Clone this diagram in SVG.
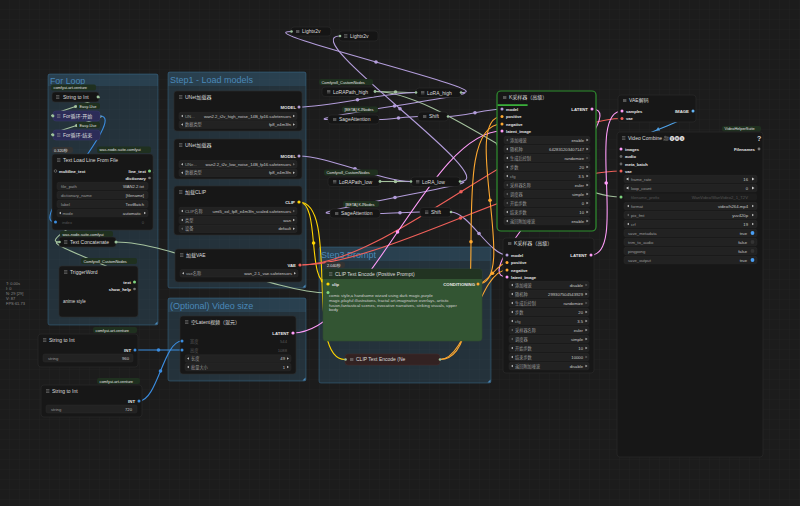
<svg xmlns="http://www.w3.org/2000/svg" width="800" height="506" viewBox="0 0 800 506">
<defs>
<pattern id="grid" width="10" height="10" patternUnits="userSpaceOnUse"><rect width="10" height="10" fill="#1c1c1c"/><path d="M10 0V10H0" fill="none" stroke="#242424" stroke-width="0.6"/></pattern>
<path id="la" d="M0 0L2-1.3V1.3Z"/>
<path id="ra" d="M0 0L-2-1.3V1.3Z"/>
<g id="mi"><rect x="0" y="-1.5" width="3.4" height="0.55"/><rect x="0" y="-0.27" width="3.4" height="0.55"/><rect x="0" y="0.95" width="3.4" height="0.55"/></g>
<path id="arrowhead" d="M0 0L-3.5-2V2Z"/>
</defs>
<style>
text{font-family:"Liberation Sans","Noto Sans CJK SC",sans-serif}
.gb{fill:#3f789e;fill-opacity:.24;stroke:#3f789e;stroke-opacity:.55;stroke-width:.8}
.gh{fill:#3f789e;fill-opacity:.2}
.gt{font-size:9px;fill:#4a88b8}
.n{fill:#171717;stroke:#2b2b2b;stroke-width:.6}
.c{fill:#151515;stroke:#2b2b2b;stroke-width:.6}
.t{font-size:5px;fill:#dcdcdc}
.s{font-size:4.1px;fill:#e6e6e6;font-weight:bold}
.se{font-size:4.3px;fill:#e6e6e6;font-weight:bold;text-anchor:end}
.w{fill:#222;stroke:#2f2f2f;stroke-width:.4}
.wl{font-size:4.2px;fill:#9a9a9a}
.wv{font-size:4.2px;fill:#c8c8c8;text-anchor:end}
.g1{fill:#555}
.bd{fill:#1f301f}
.bt{font-size:3.9px;fill:#e0e0e0}
.ar{fill:#bbb}
.mi{fill:#8a8a8a}
.wr{fill:none;stroke-width:1.1}
.st{font-size:4px;fill:#8a8a8a}
</style>
<rect width="800" height="506" fill="url(#grid)"/>

<g id="groups">
<g id="group-for-loop"><rect class="gb" x="48" y="74" width="110" height="251" rx="2"/><rect class="gh" x="48" y="74" width="110" height="12"/><text class="gt" x="50" y="84" style="font-size:8.8px">For Loop</text><path d="M157.5,324.5h-3l3-3z" fill="#4a88b8"/></g>
<g id="group-step1"><rect class="gb" x="168" y="72" width="138" height="216" rx="2"/><rect class="gh" x="168" y="72" width="138" height="14"/><text class="gt" x="170" y="82.5">Step1 - Load models</text><path d="M305.5,287.5h-3l3-3z" fill="#4a88b8"/></g>
<g id="group-video-size"><rect class="gb" x="168" y="298" width="138" height="83" rx="2"/><rect class="gh" x="168" y="298" width="138" height="14"/><text class="gt" x="170" y="308.5">(Optional) Video size</text><path d="M305.5,380.5h-3l3-3z" fill="#4a88b8"/></g>
<g id="group-step3"><rect class="gb" x="319" y="247" width="172" height="136" rx="2"/><rect class="gh" x="319" y="247" width="172" height="14"/><text class="gt" x="321" y="257.5">Step3 Prompt</text><path d="M490.5,382.5h-3l3-3z" fill="#4a88b8"/></g>
</g>

<text class="st" x="6" y="285">T: 0.00s</text>
<text class="st" x="6" y="290">I: 0</text>
<text class="st" x="6" y="295">N: 29 [29]</text>
<text class="st" x="6" y="300">V: 87</text>
<text class="st" x="6" y="305">FPS:61.73</text>

<g id="connectors">
<g stroke="#a5c29e" class="wr">
<path d="M98,97 C110.2,97 40.8,116 53,116"/>
<path d="M100,116 C112.7,116 40.3,135 53,135"/>
<path d="M149,171 C177.7,171 30.3,242 59,242"/>
<path d="M134,282 C155.3,282 37.7,242 59,242"/>
<path d="M116,242 C170.5,242 273.5,293 328,293"/>
<path d="M375,91.5 C385,91.5 406,92.5 416,92.5"/>
<path d="M380,181.5 L411,181.5"/>
<path d="M375,91.5 C441.9,91.5 554.1,197 621,197"/>
</g>
<g fill="#a5c29e"><circle cx="75.5" cy="106.5" r="1.5"/><circle cx="76.5" cy="125.5" r="1.5"/><circle cx="395.5" cy="92" r="1.8"/><circle cx="395.5" cy="181.5" r="1.8"/><circle cx="498" cy="144.2" r="1.8"/></g>
<g stroke="#3b8de0" class="wr">
<path d="M100,116 C128.8,116 26.2,222 55,222"/>
<path d="M135,350 C146.75,350 170.25,350 182,350"/>
<path d="M139,401 C157.5,401 163.5,341 182,341"/>
</g>
<g fill="#3b8de0"><circle cx="158.5" cy="350" r="1.8"/><circle cx="160.5" cy="371" r="1.8"/></g>
<g stroke="#b39ddb" class="wr">
<path d="M299,107 C328.5,107 386.5,92.5 416,92.5"/>
<path d="M299,156 C327.7,156 382.3,181.5 411,181.5"/>
<path d="M461,92.5 C506,92.5 246,31.5 291,31.5"/>
<path d="M460,181.5 C507,181.5 293,36 340,36"/>
<path d="M461,92.5 C495,92.5 294,119.5 328,119.5"/>
<path d="M460,181.5 C493.5,181.5 296.5,213.5 330,213.5"/>
<path d="M379,119.5 C389,119.5 408,116.5 418,116.5"/>
<path d="M380,213.5 C390,213.5 410,212 420,212"/>
<path d="M448,116.5 C461.6,116.5 488.4,109 502,109"/>
<path d="M451,212 C468.7,212 489.3,255 507,255"/>
</g>
<g fill="#b39ddb"><circle cx="357.5" cy="99.8" r="1.8"/><circle cx="355" cy="168.8" r="1.8"/><circle cx="376" cy="62" r="1.8"/><circle cx="400" cy="108.8" r="1.8"/><circle cx="394.5" cy="106" r="1.8"/><circle cx="395" cy="197.5" r="1.8"/><circle cx="398.5" cy="118" r="1.8"/><circle cx="400" cy="212.8" r="1.8"/><circle cx="475" cy="112.8" r="1.8"/><circle cx="479" cy="233.5" r="1.8"/></g>
<g stroke="#ffd500" class="wr">
<path d="M299,202 C320.7,202 306.3,284 328,284"/>
<path d="M299,202 C340,202 304,359.5 345,359.5"/>
</g>
<g fill="#ffd500"><circle cx="313.6" cy="243" r="1.8"/><circle cx="322.5" cy="280.8" r="1.8"/></g>
<g stroke="#f0605a" class="wr">
<path d="M300,265 C388.4,265 533.6,118.5 622,118.5"/>
<path d="M300,265 C383.6,265 537.4,171 621,171"/>
</g>
<g fill="#f0605a"><circle cx="461" cy="191.8" r="1.8"/><circle cx="460.5" cy="218" r="1.8"/></g>
<g stroke="#ff9cf9" class="wr">
<path d="M293,333 C365.7,333 429.3,131 502,131"/>
<path d="M592,109 C639,109 460,277 507,277"/>
<path d="M591,255 C627.8,255 585.2,111 622,111"/>
</g>
<g fill="#ff9cf9"><circle cx="397.5" cy="232" r="1.8"/><circle cx="606.2" cy="183" r="1.8"/></g>
<g stroke="#ffa931" class="wr">
<path d="M478,284 C520.3,284 459.7,116.5 502,116.5"/>
<path d="M440,359.5 C500.9,359.5 441.1,124 502,124"/>
<path d="M478,284 C487,284 498,262.5 507,262.5"/>
<path d="M440,359.5 C468,359.5 479,270 507,270"/>
</g>
<g fill="#ffa931"><circle cx="490" cy="200.3" r="1.8"/><circle cx="471" cy="241.8" r="1.8"/><circle cx="492.5" cy="273.3" r="1.8"/></g>
<path class="wr" stroke="#4fa3ea" d="M693,111 C713.4,111 600.6,149 621,149"/>
<use href="#arrowhead" fill="#4fa3ea" transform="translate(656,130.5) rotate(152)"/>
</g>

<g id="node-string-to-int-loop">
<rect class="bd" x="51" y="84.5" width="45" height="6" rx="2"/><text class="bt" x="53.5" y="89">comfyui-art-venture</text>
<rect class="c" x="52" y="92" width="47" height="10" rx="3"/><use href="#mi" class="mi" x="56" y="97"/><text class="t" x="63" y="98.8">String to Int</text><circle cx="98" cy="97" r="1.4" fill="#9bc29b"/>
</g>
<g id="node-for-start">
<rect class="bd" x="77" y="103" width="23" height="6" rx="2"/><text class="bt" x="79.5" y="107.5">Easy-Use</text>
<rect x="53" y="111" width="47" height="10" rx="3" fill="#2c2c58" stroke="#36366a" stroke-width=".6"/><use href="#mi" class="mi" x="57" y="116"/><text class="t" x="63" y="117.8">For循环-开始</text><circle cx="53" cy="116" r="1.4" fill="#9bc29b"/>
</g>
<g id="node-for-end">
<rect class="bd" x="77" y="122" width="23" height="6" rx="2"/><text class="bt" x="79.5" y="126.5">Easy-Use</text>
<rect x="53" y="130" width="47" height="10" rx="3" fill="#2c2c58" stroke="#36366a" stroke-width=".6"/><use href="#mi" class="mi" x="57" y="135"/><text class="t" x="63" y="136.8">For循环-结束</text><circle cx="53" cy="135" r="1.4" fill="#9bc29b"/>
</g>
<g id="node-text-load-line">
<rect x="52" y="147" width="21" height="6" rx="2" fill="#333"/><text class="bt" x="54" y="151.5">0.320秒</text>
<rect class="bd" x="97" y="146.5" width="54" height="6.5" rx="2"/><text class="bt" x="99.5" y="151.2">was-node-suite-comfyui</text>
<rect class="n" x="52" y="154" width="101" height="76" rx="3"/><use href="#mi" class="mi" x="57" y="160"/><text class="t" x="63" y="161.8">Text Load Line From File</text>
<circle cx="55.5" cy="171" r="1.3" fill="none" stroke="#999" stroke-width=".5"/><text class="s" x="59" y="172.5">multiline_text</text>
<text class="se" x="146" y="172.5">line_text</text><circle cx="149.5" cy="171" r="1.5" fill="#7ed37e"/>
<text class="se" x="146" y="179.5">dictionary</text><circle cx="149.5" cy="178" r="1.3" fill="#777"/>
<rect class="w" x="57" y="182.3" width="91" height="7.5" rx="2"/><text class="wl" x="61" y="187.5">file_path</text><text class="wv" x="144" y="187.5">WAN2.2.txt</text>
<rect class="w" x="57" y="191.3" width="91" height="7.5" rx="2"/><text class="wl" x="61" y="196.5">dictionary_name</text><text class="wv" x="144" y="196.5">[filename]</text>
<rect class="w" x="57" y="200.3" width="91" height="7.5" rx="2"/><text class="wl" x="61" y="205.5">label</text><text class="wv" x="144" y="205.5">TextBatch</text>
<rect class="w" x="57" y="209.3" width="91" height="7.5" rx="2"/><use href="#la" class="ar" x="59" y="213"/><text class="wl" x="62.5" y="214.5">mode</text><text class="wv" x="141" y="214.5">automatic</text><use href="#ra" class="ar" x="146" y="213"/>
<text class="wl" x="62" y="223.5" style="fill:#555">index</text><text class="wv" x="144" y="223.5" style="fill:#555">0</text><circle cx="55.5" cy="222" r="1.5" fill="#3b8de0"/>
</g>
<g id="node-text-concatenate">
<rect class="bd" x="60" y="231" width="53" height="6" rx="2"/><text class="bt" x="62.5" y="235.5">was-node-suite-comfyui</text>
<rect class="c" x="59" y="237" width="57" height="10" rx="3"/><use href="#mi" class="mi" x="64" y="242"/><text class="t" x="70" y="243.8">Text Concatenate</text><circle cx="116" cy="242" r="1.5" fill="#9bc29b"/><circle cx="59.5" cy="242" r="1.3" fill="#9bc29b"/>
</g>
<g id="node-triggerword">
<rect class="bd" x="81" y="258" width="56" height="6" rx="2"/><text class="bt" x="83.5" y="262.5">Comfyroll_CustomNodes</text>
<rect class="n" x="59" y="266" width="79" height="51" rx="3"/><use href="#mi" class="mi" x="64" y="272"/><text class="t" x="70" y="273.8">TriggerWord</text>
<text class="se" x="131" y="283.5">text</text><circle cx="134.5" cy="282" r="1.5" fill="#7ed37e"/>
<text class="se" x="131" y="290.5">show_help</text><circle cx="134.5" cy="289" r="1.3" fill="#777"/>
<text x="63" y="302.5" style="font-size:4.5px;fill:#ddd">anime style</text>
</g>
<g id="node-string-to-int-1">
<rect class="bd" x="93" y="327" width="44" height="6" rx="2"/><text class="bt" x="95.5" y="331.5">comfyui-art-venture</text>
<rect class="n" x="38" y="334" width="100" height="33" rx="3"/><use href="#mi" class="mi" x="43" y="340"/><text class="t" x="49" y="341.8">String to Int</text>
<text class="se" x="131" y="351.5">INT</text><circle cx="135" cy="350" r="1.5" fill="#3b8de0"/>
<rect class="w" x="43" y="354" width="90" height="8" rx="2"/><text class="wl" x="48" y="359.5">string</text><text class="wv" x="129" y="359.5">960</text>
</g>
<g id="node-string-to-int-2">
<rect class="bd" x="97" y="378" width="43" height="6" rx="2"/><text class="bt" x="99.5" y="382.5">comfyui-art-venture</text>
<rect class="n" x="41" y="385" width="101" height="32" rx="3"/><use href="#mi" class="mi" x="46" y="391"/><text class="t" x="52" y="392.8">String to Int</text>
<text class="se" x="135" y="402.5">INT</text><circle cx="139" cy="401" r="1.5" fill="#3b8de0"/>
<rect class="w" x="46" y="405" width="91" height="8" rx="2"/><text class="wl" x="51" y="410.5">string</text><text class="wv" x="132" y="410.5">720</text>
</g>

<g id="node-unet-high">
<rect class="n" x="174" y="91" width="128" height="40" rx="3"/><use href="#mi" class="mi" x="179" y="97"/><text class="t" x="185" y="98.8">UNet加载器</text>
<text class="se" x="296" y="108.5">MODEL</text><circle cx="299" cy="107" r="1.5" fill="#b39ddb"/>
<rect class="w" x="179" y="112.3" width="118" height="7.5" rx="2"/><use href="#la" class="ar" x="181" y="116"/><text class="wl" x="185" y="117.5">UN...</text><text class="wv" x="291" y="117.5">wan2.2_t2v_high_noise_14B_fp16.safetensors</text><use href="#ra" class="ar" x="295" y="116"/>
<rect class="w" x="179" y="120.8" width="118" height="7.5" rx="2"/><use href="#la" class="ar" x="181" y="124.5"/><text class="wl" x="185" y="126">数据类型</text><text class="wv" x="291" y="126">fp8_e4m3fn</text><use href="#ra" class="ar" x="295" y="124.5"/>
</g>
<g id="node-unet-low">
<rect class="n" x="174" y="139" width="128" height="40" rx="3"/><use href="#mi" class="mi" x="179" y="145"/><text class="t" x="185" y="146.8">UNet加载器</text>
<text class="se" x="296" y="157.5">MODEL</text><circle cx="299" cy="156" r="1.5" fill="#b39ddb"/>
<rect class="w" x="179" y="160.5" width="118" height="7.5" rx="2"/><use href="#la" class="ar" x="181" y="164.2"/><text class="wl" x="185" y="165.7">UNe...</text><text class="wv" x="291" y="165.7">wan2.2_t2v_low_noise_14B_fp16.safetensors</text><use href="#ra" x="295" y="164.2" fill="#666"/>
<rect class="w" x="179" y="169" width="118" height="7.5" rx="2"/><use href="#la" class="ar" x="181" y="172.7"/><text class="wl" x="185" y="174.2">数据类型</text><text class="wv" x="291" y="174.2">fp8_e4m3fn</text><use href="#ra" class="ar" x="295" y="172.7"/>
</g>
<g id="node-load-clip">
<rect class="n" x="174" y="186" width="128" height="49" rx="3"/><use href="#mi" class="mi" x="179" y="192"/><text class="t" x="185" y="193.8">加载CLIP</text>
<text class="se" x="295" y="203.5">CLIP</text><circle cx="299" cy="202" r="1.6" fill="#ffd500"/>
<rect class="w" x="179" y="207.3" width="118" height="7.5" rx="2"/><use href="#la" class="ar" x="181" y="211"/><text class="wl" x="185" y="212.5">CLIP名称</text><text class="wv" x="291" y="212.5">umt5_xxl_fp8_e4m3fn_scaled.safetensors</text><use href="#ra" x="295" y="211" fill="#666"/>
<rect class="w" x="179" y="216.3" width="118" height="7.5" rx="2"/><use href="#la" class="ar" x="181" y="220"/><text class="wl" x="185" y="221.5">类型</text><text class="wv" x="291" y="221.5">wan</text><use href="#ra" class="ar" x="295" y="220"/>
<rect class="w" x="179" y="225" width="118" height="7.5" rx="2"/><use href="#la" x="181" y="228.7" fill="#666"/><text class="wl" x="185" y="230.2">设备</text><text class="wv" x="291" y="230.2">default</text><use href="#ra" class="ar" x="295" y="228.7"/>
</g>
<g id="node-load-vae">
<rect class="n" x="175" y="249" width="127" height="33" rx="3"/><use href="#mi" class="mi" x="180" y="255"/><text class="t" x="186" y="256.8">加载VAE</text>
<text class="se" x="296" y="266.5">VAE</text><circle cx="300" cy="265" r="1.6" fill="#f0605a"/>
<rect class="w" x="180" y="269.5" width="118" height="7.5" rx="2"/><use href="#la" class="ar" x="182" y="273.2"/><text class="wl" x="186" y="274.7">vae名称</text><text class="wv" x="292" y="274.7">wan_2.1_vae.safetensors</text><use href="#ra" class="ar" x="296" y="273.2"/>
</g>
<g id="node-empty-latent">
<rect class="n" x="180" y="316" width="116" height="58" rx="3"/><use href="#mi" class="mi" x="185" y="322"/><text class="t" x="191" y="323.8">空Latent视频（混元）</text>
<text class="se" x="289" y="334.5">LATENT</text><circle cx="293" cy="333" r="1.6" fill="#ff9cf9"/>
<circle cx="182" cy="341" r="1.5" fill="#3b8de0"/><text class="wl" x="190" y="342.5" style="fill:#555">宽度</text><text class="wv" x="287" y="342.5" style="fill:#555">544</text>
<circle cx="182" cy="350" r="1.5" fill="#3b8de0"/><text class="wl" x="190" y="351.5" style="fill:#555">高度</text><text class="wv" x="287" y="351.5" style="fill:#555">1088</text>
<rect class="w" x="185" y="354.8" width="106" height="7.5" rx="2"/><use href="#la" class="ar" x="187" y="358.5"/><text class="wl" x="191" y="360">长度</text><text class="wv" x="285" y="360">49</text><use href="#ra" class="ar" x="289" y="358.5"/>
<rect class="w" x="185" y="363.3" width="106" height="7.5" rx="2"/><use href="#la" class="ar" x="187" y="367"/><text class="wl" x="191" y="368.5">批量大小</text><text class="wv" x="285" y="368.5">1</text><use href="#ra" class="ar" x="289" y="367"/>
</g>

<g id="node-lightx2v-1">
<rect class="c" x="291" y="27" width="40" height="9" rx="3"/><use href="#mi" class="mi" x="296" y="31.5"/><text class="t" x="302" y="33.3">Lightx2v</text><circle cx="291.5" cy="31.5" r="1.3" fill="#9bc29b"/>
</g>
<g id="node-lightx2v-2">
<rect class="c" x="339" y="31" width="39" height="10" rx="3"/><use href="#mi" class="mi" x="344" y="36"/><text class="t" x="350" y="37.8">Lightx2v</text><circle cx="340" cy="36" r="1.3" fill="#9bc29b"/>
</g>
<g id="node-lorapath-high">
<rect class="bd" x="319" y="79" width="54" height="6" rx="2"/><text class="bt" x="321.5" y="83.5">Comfyroll_CustomNodes</text>
<rect class="c" x="322" y="87" width="53" height="9.5" rx="3"/><use href="#mi" class="mi" x="327" y="91.7"/><text class="t" x="333" y="93.5">LoRAPath_high</text><circle cx="375" cy="91.5" r="1.4" fill="#9bc29b"/>
</g>
<g id="node-lora-high">
<rect class="c" x="416" y="88" width="45" height="9.5" rx="3"/><use href="#mi" class="mi" x="421" y="92.7"/><text class="t" x="427" y="94.5">LoRA_high</text><circle cx="416" cy="92.5" r="1.3" fill="#9bc29b"/><circle cx="461" cy="92.5" r="1.3" fill="#9bc29b"/>
</g>
<g id="node-sage-1">
<rect class="bd" x="342" y="106.5" width="36" height="6" rx="2"/><text class="bt" x="344.5" y="111">[BETA] KJNodes</text>
<rect class="c" x="328" y="115" width="51" height="9" rx="3"/><use href="#mi" class="mi" x="333" y="119.5"/><text class="t" x="339" y="121.3">SageAttention</text>
</g>
<g id="node-shift-1">
<rect class="c" x="418" y="112" width="30" height="9" rx="3"/><use href="#mi" class="mi" x="423" y="116.5"/><text class="t" x="429" y="118.3">Shift</text><circle cx="448" cy="116.5" r="1.3" fill="#9bc29b"/>
</g>
<g id="node-lorapath-low">
<rect class="bd" x="324" y="169.5" width="54" height="6" rx="2"/><text class="bt" x="326.5" y="174">Comfyroll_CustomNodes</text>
<rect class="c" x="328" y="177" width="52" height="9.5" rx="3"/><use href="#mi" class="mi" x="333" y="181.7"/><text class="t" x="339" y="183.5">LoRAPath_low</text><circle cx="380" cy="181.5" r="1.4" fill="#9bc29b"/>
</g>
<g id="node-lora-low">
<rect class="c" x="411" y="177" width="49" height="9.5" rx="3"/><use href="#mi" class="mi" x="416" y="181.7"/><text class="t" x="422" y="183.5">LoRA_low</text><circle cx="411" cy="181.5" r="1.3" fill="#9bc29b"/><circle cx="460" cy="181.5" r="1.3" fill="#9bc29b"/>
</g>
<g id="node-sage-2">
<rect class="bd" x="343" y="201" width="36" height="6" rx="2"/><text class="bt" x="345.5" y="205.5">[BETA] KJNodes</text>
<rect class="c" x="330" y="209" width="50" height="9" rx="3"/><use href="#mi" class="mi" x="335" y="213.5"/><text class="t" x="341" y="215.3">SageAttention</text>
</g>
<g id="node-shift-2">
<rect class="c" x="420" y="207.5" width="31" height="9.5" rx="3"/><use href="#mi" class="mi" x="425" y="212.2"/><text class="t" x="431" y="214">Shift</text><circle cx="451" cy="212" r="1.3" fill="#9bc29b"/>
</g>

<g id="node-ksampler-1">
<rect x="497" y="91" width="99" height="140" rx="4" fill="#171717" stroke="#2f8f2f" stroke-width="1.2"/>
<rect x="497.6" y="104.3" width="30" height="1.6" fill="#3fbf3f"/>
<use href="#mi" class="mi" x="503" y="97.5"/><text class="t" x="509" y="99.3">K采样器（高级）</text>
<circle cx="502" cy="109" r="1.5" fill="#b39ddb"/><text class="s" x="506" y="110.5">model</text>
<circle cx="502" cy="116.5" r="1.5" fill="#ffa931"/><text class="s" x="506" y="118">positive</text>
<circle cx="502" cy="124" r="1.5" fill="#ffa931"/><text class="s" x="506" y="125.5">negative</text>
<circle cx="502" cy="131" r="1.5" fill="#ff9cf9"/><text class="s" x="506" y="132.5">latent_image</text>
<text class="se" x="588" y="110.5">LATENT</text><circle cx="592" cy="109" r="1.5" fill="#ff9cf9"/>
<rect class="w" x="504" y="136.3" width="86" height="7.5" rx="2"/><use href="#la" x="506" y="140" fill="#666"/><text class="wl" x="510" y="141.5">添加噪波</text><text class="wv" x="584" y="141.5">enable</text><use href="#ra" class="ar" x="588.5" y="140"/>
<rect class="w" x="504" y="145.3" width="86" height="7.5" rx="2"/><use href="#la" class="ar" x="506" y="149"/><text class="wl" x="510" y="150.5">随机种</text><text class="wv" x="584" y="150.5">642831203407147</text><use href="#ra" class="ar" x="588.5" y="149"/>
<rect class="w" x="504" y="154.3" width="86" height="7.5" rx="2"/><use href="#la" class="ar" x="506" y="158"/><text class="wl" x="510" y="159.5">生成后控制</text><text class="wv" x="584" y="159.5">randomize</text><use href="#ra" x="588.5" y="158" fill="#666"/>
<rect class="w" x="504" y="163.3" width="86" height="7.5" rx="2"/><use href="#la" class="ar" x="506" y="167"/><text class="wl" x="510" y="168.5">步数</text><text class="wv" x="584" y="168.5">20</text><use href="#ra" class="ar" x="588.5" y="167"/>
<rect class="w" x="504" y="172.3" width="86" height="7.5" rx="2"/><use href="#la" class="ar" x="506" y="176"/><text class="wl" x="510" y="177.5">cfg</text><text class="wv" x="584" y="177.5">3.5</text><use href="#ra" class="ar" x="588.5" y="176"/>
<rect class="w" x="504" y="181.3" width="86" height="7.5" rx="2"/><use href="#la" x="506" y="185" fill="#666"/><text class="wl" x="510" y="186.5">采样器名称</text><text class="wv" x="584" y="186.5">euler</text><use href="#ra" class="ar" x="588.5" y="185"/>
<rect class="w" x="504" y="190.3" width="86" height="7.5" rx="2"/><use href="#la" x="506" y="194" fill="#666"/><text class="wl" x="510" y="195.5">调度器</text><text class="wv" x="584" y="195.5">simple</text><use href="#ra" class="ar" x="588.5" y="194"/>
<rect class="w" x="504" y="199.3" width="86" height="7.5" rx="2"/><use href="#la" x="506" y="203" fill="#666"/><text class="wl" x="510" y="204.5">开始步数</text><text class="wv" x="584" y="204.5">0</text><use href="#ra" class="ar" x="588.5" y="203"/>
<rect class="w" x="504" y="208.3" width="86" height="7.5" rx="2"/><use href="#la" class="ar" x="506" y="212"/><text class="wl" x="510" y="213.5">结束步数</text><text class="wv" x="584" y="213.5">10</text><use href="#ra" class="ar" x="588.5" y="212"/>
<rect class="w" x="504" y="217.3" width="86" height="7.5" rx="2"/><use href="#la" class="ar" x="506" y="221"/><text class="wl" x="510" y="222.5">返回附加噪波</text><text class="wv" x="584" y="222.5">enable</text><use href="#ra" class="ar" x="588.5" y="221"/>
</g>
<g id="node-ksampler-2">
<rect class="n" x="503" y="238" width="91" height="135" rx="3"/>
<use href="#mi" class="mi" x="508" y="243.5"/><text class="t" x="514" y="245.3">K采样器（高级）</text>
<circle cx="507" cy="255" r="1.5" fill="#b39ddb"/><text class="s" x="511" y="256.5">model</text>
<circle cx="507" cy="262.5" r="1.5" fill="#ffa931"/><text class="s" x="511" y="264">positive</text>
<circle cx="507" cy="270" r="1.5" fill="#ffa931"/><text class="s" x="511" y="271.5">negative</text>
<circle cx="507" cy="277" r="1.5" fill="#ff9cf9"/><text class="s" x="511" y="278.5">latent_image</text>
<text class="se" x="587" y="256.5">LATENT</text><circle cx="591" cy="255" r="1.5" fill="#ff9cf9"/>
<rect class="w" x="509" y="281.3" width="80" height="7.5" rx="2"/><use href="#la" class="ar" x="511" y="285"/><text class="wl" x="515" y="286.5">添加噪波</text><text class="wv" x="583" y="286.5">disable</text><use href="#ra" x="587.5" y="285" fill="#666"/>
<rect class="w" x="509" y="290.3" width="80" height="7.5" rx="2"/><use href="#la" class="ar" x="511" y="294"/><text class="wl" x="515" y="295.5">随机种</text><text class="wv" x="583" y="295.5">299307504543929</text><use href="#ra" class="ar" x="587.5" y="294"/>
<rect class="w" x="509" y="299.3" width="80" height="7.5" rx="2"/><use href="#la" class="ar" x="511" y="303"/><text class="wl" x="515" y="304.5">生成后控制</text><text class="wv" x="583" y="304.5">randomize</text><use href="#ra" x="587.5" y="303" fill="#666"/>
<rect class="w" x="509" y="308.3" width="80" height="7.5" rx="2"/><use href="#la" class="ar" x="511" y="312"/><text class="wl" x="515" y="313.5">步数</text><text class="wv" x="583" y="313.5">20</text><use href="#ra" class="ar" x="587.5" y="312"/>
<rect class="w" x="509" y="317.3" width="80" height="7.5" rx="2"/><use href="#la" class="ar" x="511" y="321"/><text class="wl" x="515" y="322.5">cfg</text><text class="wv" x="583" y="322.5">3.5</text><use href="#ra" class="ar" x="587.5" y="321"/>
<rect class="w" x="509" y="326.3" width="80" height="7.5" rx="2"/><use href="#la" x="511" y="330" fill="#666"/><text class="wl" x="515" y="331.5">采样器名称</text><text class="wv" x="583" y="331.5">euler</text><use href="#ra" class="ar" x="587.5" y="330"/>
<rect class="w" x="509" y="335.3" width="80" height="7.5" rx="2"/><use href="#la" x="511" y="339" fill="#666"/><text class="wl" x="515" y="340.5">调度器</text><text class="wv" x="583" y="340.5">simple</text><use href="#ra" class="ar" x="587.5" y="339"/>
<rect class="w" x="509" y="344.3" width="80" height="7.5" rx="2"/><use href="#la" class="ar" x="511" y="348"/><text class="wl" x="515" y="349.5">开始步数</text><text class="wv" x="583" y="349.5">10</text><use href="#ra" class="ar" x="587.5" y="348"/>
<rect class="w" x="509" y="353.3" width="80" height="7.5" rx="2"/><use href="#la" class="ar" x="511" y="357"/><text class="wl" x="515" y="358.5">结束步数</text><text class="wv" x="583" y="358.5">10000</text><use href="#ra" x="587.5" y="357" fill="#666"/>
<rect class="w" x="509" y="362.3" width="80" height="7.5" rx="2"/><use href="#la" class="ar" x="511" y="366"/><text class="wl" x="515" y="367.5">返回附加噪波</text><text class="wv" x="583" y="367.5">disable</text><use href="#ra" class="ar" x="587.5" y="366"/>
</g>
<g id="node-vae-decode">
<rect class="n" x="618" y="95" width="78" height="27" rx="3"/><use href="#mi" class="mi" x="623" y="100.5"/><text class="t" x="629" y="102.3">VAE解码</text>
<circle cx="622" cy="111" r="1.5" fill="#ff9cf9"/><text class="s" x="626" y="112.5">samples</text>
<circle cx="622" cy="118.5" r="1.5" fill="#f0605a"/><text class="s" x="626" y="120">vae</text>
<text class="se" x="689" y="112.5">IMAGE</text><circle cx="693" cy="111" r="1.5" fill="#64b5f6"/>
</g>
<g id="node-video-combine">
<rect class="bd" x="722" y="126" width="39" height="5.5" rx="2"/><text class="bt" x="724.5" y="130.2">VideoHelperSuite</text>
<rect class="n" x="617" y="132" width="146" height="325" rx="3"/><use href="#mi" class="mi" x="622" y="138"/><text class="t" x="628" y="139.8">Video Combine 🎥🅥🅗🅢</text><text x="757" y="140.5" style="font-size:7px;font-weight:bold;fill:#ddd">?</text>
<circle cx="621" cy="149" r="1.5" fill="#ff9cf9"/><text class="s" x="625" y="150.5">images</text>
<circle cx="621" cy="156.5" r="1.4" fill="#666"/><text class="s" x="625" y="158">audio</text>
<circle cx="621" cy="164" r="1.4" fill="#666"/><text class="s" x="625" y="165.5">meta_batch</text>
<circle cx="621" cy="171" r="1.5" fill="#f0605a"/><text class="s" x="625" y="172.5">vae</text>
<text class="se" x="755" y="150.5">Filenames</text><circle cx="759" cy="149" r="1.4" fill="#777"/>
<rect class="w" x="624" y="175.3" width="133" height="7.5" rx="2"/><path d="M626,179l2.5-1.6v3.2z M754.5,179l-2.5-1.6v3.2z" fill="#ccc"/><text class="wl" x="631" y="180.5">frame_rate</text><text class="wv" x="748" y="180.5">16</text>
<rect class="w" x="624" y="184.3" width="133" height="7.5" rx="2"/><path d="M626,188l2.5-1.6v3.2z M754.5,188l-2.5-1.6v3.2z" fill="#ccc"/><text class="wl" x="631" y="189.5">loop_count</text><text class="wv" x="748" y="189.5">0</text>
<rect x="624" y="193.3" width="133" height="7.5" rx="2" fill="#1d1d1d"/><circle cx="621" cy="197" r="1.5" fill="#7ed37e"/><text class="wl" x="631" y="198.5" style="fill:#555">filename_prefix</text><text class="wv" x="748" y="198.5" style="fill:#555">WanVideo/WanVideo2_1_T2V</text>
<rect class="w" x="624" y="202.3" width="133" height="7.5" rx="2"/><use href="#la" class="ar" x="627" y="206"/><text class="wl" x="631" y="207.5">format</text><text class="wv" x="748" y="207.5">video/h264-mp4</text><use href="#ra" class="ar" x="754" y="206"/>
<rect class="w" x="624" y="211.3" width="133" height="7.5" rx="2"/><use href="#la" x="627" y="215" fill="#666"/><text class="wl" x="631" y="216.5">pix_fmt</text><text class="wv" x="748" y="216.5">yuv420p</text><use href="#ra" class="ar" x="754" y="215"/>
<rect class="w" x="624" y="220.3" width="133" height="7.5" rx="2"/><use href="#la" class="ar" x="627" y="224"/><text class="wl" x="631" y="225.5">crf</text><text class="wv" x="748" y="225.5">19</text><use href="#ra" class="ar" x="754" y="224"/>
<rect class="w" x="624" y="229.3" width="133" height="7.5" rx="2"/><text class="wl" x="628" y="234.5">save_metadata</text><text class="wv" x="747" y="234.5">true</text><circle cx="752.5" cy="233" r="1.9" fill="#4a9ff5"/>
<rect class="w" x="624" y="238.3" width="133" height="7.5" rx="2"/><text class="wl" x="628" y="243.5">trim_to_audio</text><text class="wv" x="747" y="243.5">false</text><circle cx="752.5" cy="242" r="1.9" fill="#333"/>
<rect class="w" x="624" y="247.3" width="133" height="7.5" rx="2"/><text class="wl" x="628" y="252.5">pingpong</text><text class="wv" x="747" y="252.5">false</text><circle cx="752.5" cy="251" r="1.9" fill="#333"/>
<rect class="w" x="624" y="256.3" width="133" height="7.5" rx="2"/><text class="wl" x="628" y="261.5">save_output</text><text class="wv" x="747" y="261.5">true</text><circle cx="752.5" cy="260" r="1.9" fill="#4a9ff5"/>
</g>

<g id="node-clip-positive">
<rect x="325" y="262" width="20" height="6" rx="2" fill="#333"/><text class="bt" x="327" y="266.5">2.040秒</text>
<rect x="323" y="269" width="159" height="72" rx="3" fill="#335533" stroke="#2f4a2f" stroke-width=".6"/>
<path d="M323,279V272a3,3 0 0 1 3-3H479a3,3 0 0 1 3,3V279Z" fill="#223322"/>
<use href="#mi" class="mi" x="329" y="274"/><text class="t" x="335" y="275.8">CLIP Text Encode (Positive Prompt)</text>
<circle cx="328" cy="284" r="1.6" fill="#ffd500"/><text class="s" x="332" y="285.5">clip</text>
<text class="se" x="475" y="285.5">CONDITIONING</text><circle cx="478" cy="284" r="1.5" fill="#ffa931"/>
<circle cx="328" cy="292.5" r="1.5" fill="#7ed37e"/>
<g style="font-size:4.2px;fill:#cfcfcf"><text x="329" y="297">comic style,a handsome wizard using dark magic,purple</text><text x="329" y="301.8">magic,playful illustrations, fractal art,imaginative overlays, artistic</text><text x="329" y="306.6">fusion,fantastical scenes, evocative narratives, striking visuals, upper</text><text x="329" y="311.4">body</text></g>
</g>
<g id="node-clip-negative">
<rect x="345" y="354" width="95" height="11" rx="3" fill="#332222" stroke="#442b2b" stroke-width=".6"/><use href="#mi" class="mi" x="350" y="359.5"/><text class="t" x="356" y="361.3">CLIP Text Encode (Ne</text><circle cx="345.5" cy="359.5" r="1.3" fill="#9bc29b"/><circle cx="440" cy="359.5" r="1.3" fill="#9bc29b"/>
</g>
</svg>
